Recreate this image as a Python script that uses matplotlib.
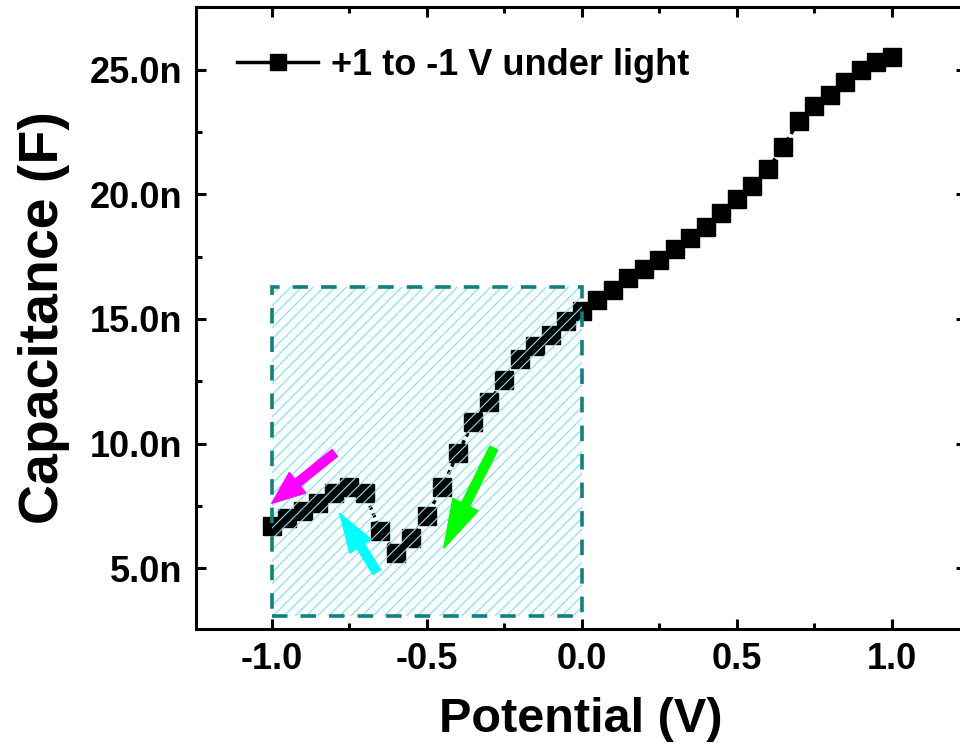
import matplotlib
matplotlib.use("Agg")
import matplotlib.pyplot as plt
from matplotlib.patches import Rectangle, FancyArrowPatch
from matplotlib.lines import Line2D
from matplotlib.ticker import MultipleLocator, FuncFormatter
import numpy as np

plt.rcParams['font.family'] = ['Liberation Sans', 'DejaVu Sans']
plt.rcParams['font.weight'] = 'bold'
plt.rcParams['hatch.linewidth'] = 0.8

# potential sweep (V) and capacitance (nF)
potential = [1.0, 0.95, 0.9, 0.85, 0.8, 0.75, 0.7, 0.65, 0.6, 0.55, 0.5,
             0.45, 0.4, 0.35, 0.3, 0.25, 0.2, 0.15, 0.1, 0.05, 0.0,
             -0.05, -0.1, -0.15, -0.2, -0.25, -0.3, -0.35, -0.4, -0.45, -0.5,
             -0.55, -0.6, -0.65, -0.7, -0.75, -0.8, -0.85, -0.9, -0.95, -1.0]
capacitance = [25.5, 25.3, 25.0, 24.5, 24.0, 23.55, 22.95, 21.9, 21.0, 20.35, 19.8,
               19.25, 18.7, 18.25, 17.8, 17.35, 17.0, 16.65, 16.15, 15.75, 15.3,
               14.9, 14.35, 13.9, 13.4, 12.55, 11.65, 10.85, 9.6, 8.25, 7.1,
               6.2, 5.6, 6.5, 8.0, 8.25, 8.0, 7.6, 7.3, 7.0, 6.7]
legend_label = "+1 to -1 V under light"

# highlighted region (V, nF)
box_x = [-1.0, 0.0]
box_y = [3.07, 16.28]

# arrows: (tail, head) in data units
arrows = [
    ((-0.797, 9.62), (-1.0, 7.6), '#ff00ff', 1.7, 1.35, 0.45),
    ((-0.661, 4.84), (-0.781, 7.2), '#00ffff', 2.0, 1.3, 0.45),
    ((-0.284, 9.82), (-0.445, 5.8), '#00ff00', 2.5, 1.45, 0.45),
]

fig = plt.figure(figsize=(9.6, 7.49), dpi=100)
ax = fig.add_axes([0.204, 0.160, 0.802, 0.831])

ax.plot(potential, capacitance, color='black', marker='s', markersize=12.5,
        linestyle=(0, (1.2, 1.2)), linewidth=2.5, zorder=2)

# hatched box, hatch drawn over the markers
hatch = Rectangle((box_x[0], box_y[0]), box_x[1] - box_x[0], box_y[1] - box_y[0],
                  facecolor='none', edgecolor='#78e4f0', hatch='///',
                  linewidth=0, zorder=3)
ax.add_patch(hatch)
edge = Rectangle((box_x[0], box_y[0]), box_x[1] - box_x[0], box_y[1] - box_y[0],
                 facecolor='none', edgecolor='#137f7f', linewidth=2.6,
                 linestyle=(0, (4.3, 3.6)), zorder=3.5)
ax.add_patch(edge)

for tail, head, col, hl, hw, tw in arrows:
    style = 'simple,head_length=%g,head_width=%g,tail_width=%g' % (hl, hw, tw)
    ax.add_patch(FancyArrowPatch(tail, head, arrowstyle=style, mutation_scale=14,
                                 color=col, shrinkA=0, shrinkB=0, zorder=4))

ax.set_xlim(-1.245, 1.239)
ax.set_ylim(2.55, 27.53)

ax.xaxis.set_major_locator(MultipleLocator(0.5))
ax.xaxis.set_minor_locator(MultipleLocator(0.25))
ax.yaxis.set_major_locator(MultipleLocator(5))
ax.yaxis.set_minor_locator(MultipleLocator(2.5))
ax.xaxis.set_major_formatter(FuncFormatter(lambda v, p: '%.1f' % v))
ax.yaxis.set_major_formatter(FuncFormatter(lambda v, p: '%.1fn' % v))

ax.tick_params(which='both', direction='in', top=True, right=True, width=2.2)
ax.tick_params(which='major', length=7.5, labelsize=26)
ax.tick_params(which='minor', length=4)
ax.tick_params(axis='x', pad=9)
ax.tick_params(axis='y', pad=10)
for lab in ax.get_xticklabels() + ax.get_yticklabels():
    lab.set_fontweight('bold')
for sp in ax.spines.values():
    sp.set_linewidth(2.2)

ax.set_xlabel('Potential (V)', fontsize=35, fontweight='bold', labelpad=15)
ax.set_ylabel('Capacitance (F)', fontsize=40, fontweight='bold', labelpad=14)

handle = Line2D([], [], color='black', marker='s', markersize=11, linewidth=2.5)
ax.legend([handle], [legend_label], loc='upper left', frameon=False,
          handlelength=2.25, handletextpad=0.35,
          borderaxespad=0.74, prop={'weight': 'bold', 'size': 26})

fig.savefig('out.png', dpi=100)
